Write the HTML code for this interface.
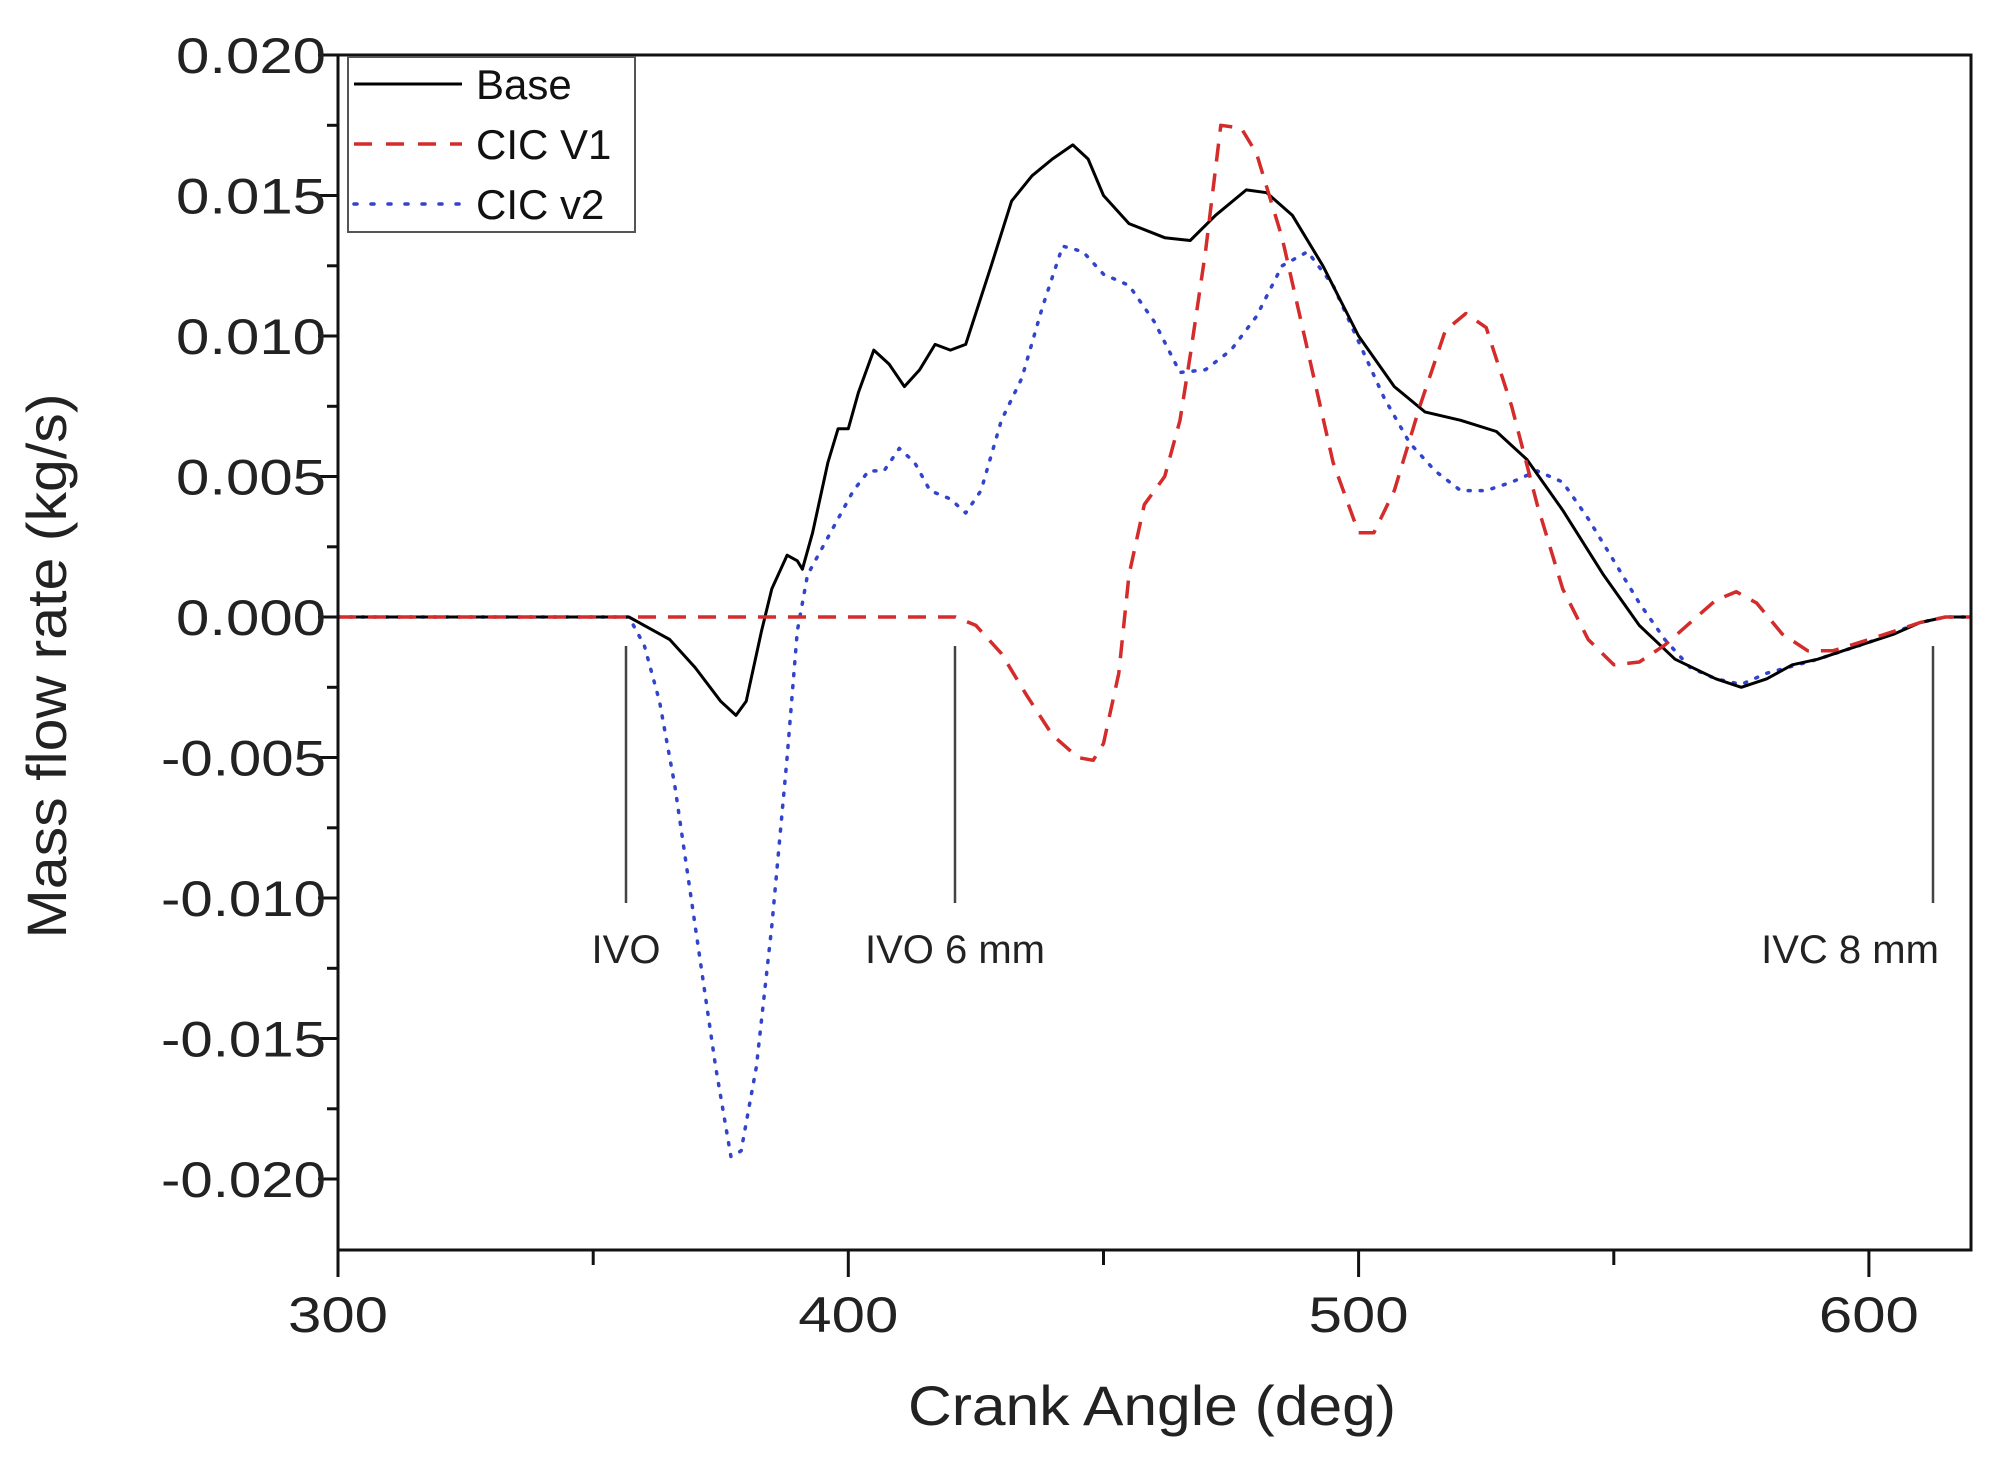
<!DOCTYPE html>
<html><head><meta charset="utf-8"><style>html,body{margin:0;padding:0;background:#fff}svg{display:block}</style></head>
<body>
<svg width="2001" height="1461" viewBox="0 0 2001 1461" xmlns="http://www.w3.org/2000/svg" font-family="Liberation Sans, Arial, sans-serif">
<rect width="2001" height="1461" fill="#fff"/>
<g stroke="#111" stroke-width="3">
<line x1="318" y1="55" x2="338" y2="55"/><line x1="318" y1="195.5" x2="338" y2="195.5"/><line x1="318" y1="336" x2="338" y2="336"/><line x1="318" y1="476.5" x2="338" y2="476.5"/><line x1="318" y1="617" x2="338" y2="617"/><line x1="318" y1="757.5" x2="338" y2="757.5"/><line x1="318" y1="898" x2="338" y2="898"/><line x1="318" y1="1038.5" x2="338" y2="1038.5"/><line x1="318" y1="1179" x2="338" y2="1179"/>
<line x1="327" y1="125.3" x2="338" y2="125.3"/><line x1="327" y1="265.8" x2="338" y2="265.8"/><line x1="327" y1="406.3" x2="338" y2="406.3"/><line x1="327" y1="546.8" x2="338" y2="546.8"/><line x1="327" y1="687.3" x2="338" y2="687.3"/><line x1="327" y1="827.8" x2="338" y2="827.8"/><line x1="327" y1="968.3" x2="338" y2="968.3"/><line x1="327" y1="1108.8" x2="338" y2="1108.8"/>
<line x1="338" y1="1250" x2="338" y2="1277"/><line x1="593.2" y1="1250" x2="593.2" y2="1265"/><line x1="848.3" y1="1250" x2="848.3" y2="1277"/><line x1="1103.5" y1="1250" x2="1103.5" y2="1265"/><line x1="1358.6" y1="1250" x2="1358.6" y2="1277"/><line x1="1613.8" y1="1250" x2="1613.8" y2="1265"/><line x1="1868.9" y1="1250" x2="1868.9" y2="1277"/>
</g>
<g fill="#222" font-size="50" text-anchor="end">
<text x="326" y="73" textLength="150" lengthAdjust="spacingAndGlyphs">0.020</text>
<text x="326" y="213.5" textLength="150" lengthAdjust="spacingAndGlyphs">0.015</text>
<text x="326" y="354" textLength="150" lengthAdjust="spacingAndGlyphs">0.010</text>
<text x="326" y="494.5" textLength="150" lengthAdjust="spacingAndGlyphs">0.005</text>
<text x="326" y="635" textLength="150" lengthAdjust="spacingAndGlyphs">0.000</text>
<text x="326" y="775.5" textLength="165" lengthAdjust="spacingAndGlyphs">-0.005</text>
<text x="326" y="916" textLength="165" lengthAdjust="spacingAndGlyphs">-0.010</text>
<text x="326" y="1056.5" textLength="165" lengthAdjust="spacingAndGlyphs">-0.015</text>
<text x="326" y="1197" textLength="165" lengthAdjust="spacingAndGlyphs">-0.020</text>
</g>
<g fill="#222" font-size="50" text-anchor="middle">
<text x="338" y="1332" textLength="100" lengthAdjust="spacingAndGlyphs">300</text>
<text x="848.3" y="1332" textLength="100" lengthAdjust="spacingAndGlyphs">400</text>
<text x="1358.6" y="1332" textLength="100" lengthAdjust="spacingAndGlyphs">500</text>
<text x="1868.9" y="1332" textLength="100" lengthAdjust="spacingAndGlyphs">600</text>
</g>
<g fill="none" stroke-linejoin="round">
<polyline stroke="#3344cc" stroke-width="3.5" stroke-dasharray="2,10" stroke-linecap="round" points="338,617 628.9,617 644.2,645.1 659.5,701.3 674.8,785.6 695.2,926.1 715.6,1066.6 730.9,1156.5 741.1,1150.9 756.4,1066.6 771.8,926.1 787.1,757.5 797.3,631.1 807.5,574.9 822.8,546.8 838.1,518.7 853.4,490.6 868.7,470.9 884,470.9 899.3,448.4 914.6,462.5 930,490.6 950.4,499 965.7,513 981,490.6 1001.4,420.3 1021.8,378.2 1042.2,307.9 1062.6,246.1 1083,251.7 1103.5,274.2 1129,285.4 1154.5,322 1180,372.5 1205.5,369.7 1231,350.1 1256.5,316.3 1282.1,265.8 1307.6,251.7 1333.1,285.4 1358.6,341.6 1384.1,397.8 1409.6,442.8 1435.1,470.9 1460.7,490.6 1486.2,490.6 1511.7,482.1 1537.2,470.9 1562.7,482.1 1588.2,518.7 1613.8,560.8 1639.3,603 1664.8,639.5 1690.3,667.6 1715.8,678.8 1741.3,684.4 1766.8,673.2 1817.9,659.2 1868.9,642.3 1919.9,622.6 1945.4,617 1970.9,617"/>
<polyline stroke="#000" stroke-width="3" points="338,617 628.9,617 644.2,625.4 669.7,639.5 695.2,667.6 720.7,701.3 736,715.4 746.2,701.3 761.5,631.1 771.8,588.9 787.1,555.2 797.3,560.8 802.4,569.2 812.6,532.7 827.9,462.5 838.1,428.7 848.3,428.7 858.5,392.2 873.8,350.1 889.1,364.1 904.4,386.6 919.7,369.7 935.1,344.4 950.4,350.1 965.7,344.4 991.2,265.8 1011.6,201.1 1032,175.8 1052.4,159 1072.8,144.9 1088.1,159 1103.5,195.5 1129,223.6 1164.7,237.7 1190.2,240.5 1215.7,215.2 1246.3,189.9 1266.7,192.7 1292.3,215.2 1322.9,265.8 1358.6,336 1394.3,386.6 1424.9,411.9 1460.7,420.3 1496.4,431.5 1527,459.6 1562.7,510.2 1603.5,574.9 1639.3,625.4 1675,659.2 1715.8,678.8 1741.3,687.3 1766.8,678.8 1792.3,664.8 1817.9,659.2 1843.4,650.7 1868.9,642.3 1894.4,633.9 1919.9,622.6 1945.4,617 1970.9,617"/>
<polyline stroke="#d42b2b" stroke-width="3.5" stroke-dasharray="18,12" points="338,617 955.5,617 975.9,625.4 1001.4,653.5 1026.9,695.7 1052.4,735 1077.9,757.5 1093.2,760.3 1103.5,743.5 1118.8,673.2 1129,574.9 1144.3,504.6 1154.5,490.6 1164.7,476.5 1180,420.3 1190.2,355.7 1205.5,251.7 1220.8,125.3 1241.2,128.1 1256.5,153.4 1282.1,237.7 1307.6,350.1 1333.1,462.5 1358.6,532.7 1373.9,532.7 1394.3,490.6 1419.8,406.3 1445.4,330.4 1465.8,313.5 1486.2,327.6 1511.7,406.3 1537.2,504.6 1562.7,588.9 1588.2,639.5 1613.8,664.8 1639.3,662 1664.8,645.1 1690.3,622.6 1715.8,600.1 1736.2,591.7 1756.6,603 1782.1,633.9 1807.6,650.7 1833.2,650.7 1868.9,639.5 1894.4,631.1 1919.9,622.6 1945.4,617 1970.9,617"/>
</g>
<rect x="338" y="55" width="1633" height="1195" fill="none" stroke="#111" stroke-width="3"/>
<g>
<rect x="348" y="57" width="287" height="175" fill="#fff" stroke="#555" stroke-width="2"/>
<line x1="354" y1="84" x2="462" y2="84" stroke="#000" stroke-width="3"/>
<line x1="354" y1="144" x2="462" y2="144" stroke="#d42b2b" stroke-width="3.5" stroke-dasharray="18,14"/>
<line x1="354" y1="204" x2="462" y2="204" stroke="#3344cc" stroke-width="3.5" stroke-dasharray="3,14" stroke-linecap="round"/>
<text x="476" y="99" font-size="42" fill="#111">Base</text>
<text x="476" y="159" font-size="42" fill="#111">CIC V1</text>
<text x="476" y="219" font-size="42" fill="#111">CIC v2</text>
</g>
<g stroke="#444" stroke-width="2.5">
<line x1="626" y1="646" x2="626" y2="903"/>
<line x1="955" y1="646" x2="955" y2="903"/>
<line x1="1933" y1="646" x2="1933" y2="903"/>
</g>
<g font-size="40" fill="#222" text-anchor="middle">
<text x="626" y="963">IVO</text>
<text x="955" y="963">IVO 6 mm</text>
<text x="1850" y="963">IVC 8 mm</text>
</g>
<text x="1152" y="1425" font-size="56" fill="#222" text-anchor="middle" textLength="488" lengthAdjust="spacingAndGlyphs">Crank Angle (deg)</text>
<text transform="translate(66,666) rotate(-90)" font-size="56" fill="#222" text-anchor="middle" textLength="545" lengthAdjust="spacingAndGlyphs">Mass flow rate (kg/s)</text>
</svg>
</body></html>
